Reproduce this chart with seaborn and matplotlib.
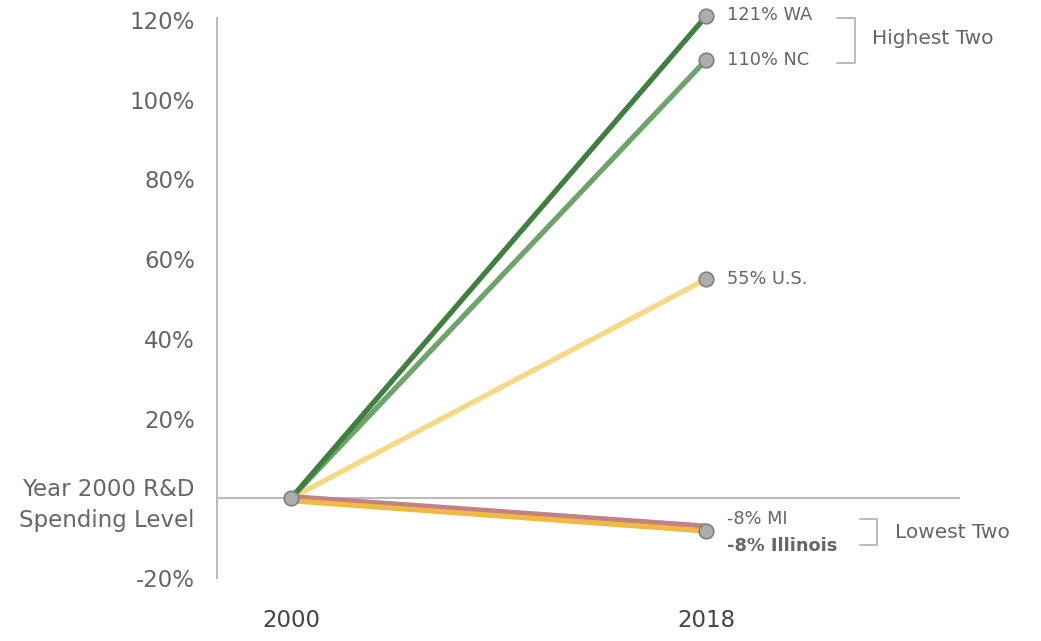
import matplotlib
matplotlib.use("Agg")
import matplotlib.pyplot as plt
import seaborn as sns
import pandas as pd

# Data
series = ["U.S.", "NC", "WA", "MI", "Illinois"]
years = [2000, 2018]
start_vals = [0, 0, 0, 0.4, -0.6]
end_vals = [55, 110, 121, -7.0, -8.2]
end_labels = ["55% U.S.", "110% NC", "121% WA", "-8% MI", "-8% Illinois"]
colors = ["#f4d987", "#6ea46c", "#3f7f3f", "#c08282", "#f2b844"]
yticks = [-20, 0, 20, 40, 60, 80, 100, 120]
ytick_labels = ["-20%", "Year 2000 R&D\nSpending Level", "20%", "40%", "60%", "80%", "100%", "120%"]

rows = []
for s, a, b in zip(series, start_vals, end_vals):
    rows.append({"series": s, "year": years[0], "value": a})
    rows.append({"series": s, "year": years[1], "value": b})
df = pd.DataFrame(rows)

sns.set_style("white")
plt.rcParams["font.family"] = ["DejaVu Sans"]
txt = "#666666"
grey = "#bbbbbb"

fig = plt.figure(figsize=(10.41, 6.41), dpi=100)
ax = fig.add_axes([217/1041, 63/641, (960-217)/1041, (578-18)/641])

ax.axhline(0, color=grey, lw=1.5, zorder=1)

sns.lineplot(data=df, x="year", y="value", hue="series", hue_order=series,
             palette=dict(zip(series, colors)), lw=3.8, legend=False, ax=ax,
             zorder=3, sort=False)
for ln in ax.get_lines()[1:]:
    ln.set_solid_capstyle("butt")
    ln.set_clip_on(False)

# markers
mk_x = [2000, 2018, 2018, 2018, 2018]
mk_y = [0, 121, 110, 55, -8.2]
ax.scatter(mk_x, mk_y, s=110, color="#adadad", edgecolor="#808080", lw=1.2,
           zorder=5, clip_on=False)

ax.set_xlim(1996.79, 2029.0)
ax.set_ylim(-20, 120.5)
ax.set_xticks(years)
ax.set_xticklabels([str(y) for y in years])
ax.set_yticks(yticks)
ax.set_yticklabels(ytick_labels)
ax.tick_params(axis="both", length=0, labelsize=16.5, colors=txt)
ax.tick_params(axis="x", pad=22)
ax.tick_params(axis="y", pad=16)
for lab in ax.get_yticklabels():
    lab.set_horizontalalignment("right")
    lab.set_multialignment("right")
    lab.set_color(txt)
    lab.set_linespacing(1.45)
for lab in ax.get_xticklabels():
    lab.set_color("#444444")

for sp in ["top", "right", "bottom"]:
    ax.spines[sp].set_visible(False)
ax.spines["left"].set_color(grey)
ax.spines["left"].set_linewidth(1.5)
ax.set_xlabel("")
ax.set_ylabel("")

# end labels
lab_y = {"121% WA": 121.3, "110% NC": 110, "55% U.S.": 55, "-8% MI": -5.3, "-8% Illinois": -12.0}
for lbl in end_labels:
    ax.text(2018.9, lab_y[lbl], lbl, fontsize=12.8, color=txt, va="center", ha="left",
            fontweight="bold" if "Illinois" in lbl else "normal", clip_on=False)

# brackets
bc = "#b5b5b5"
ax.plot([2023.65, 2024.45, 2024.45, 2023.65], [120.6, 120.6, 109.3, 109.3], color=bc, lw=1.3, clip_on=False)
ax.text(2025.2, 115.3, "Highest Two", fontsize=14.5, color=txt, va="center", ha="left")
ax.plot([2024.65, 2025.4, 2025.4, 2024.65], [-5.3, -5.3, -11.8, -11.8], color=bc, lw=1.3, clip_on=False)
ax.text(2026.2, -8.5, "Lowest Two", fontsize=14.5, color=txt, va="center", ha="left")

fig.savefig("out.png", dpi=100)
